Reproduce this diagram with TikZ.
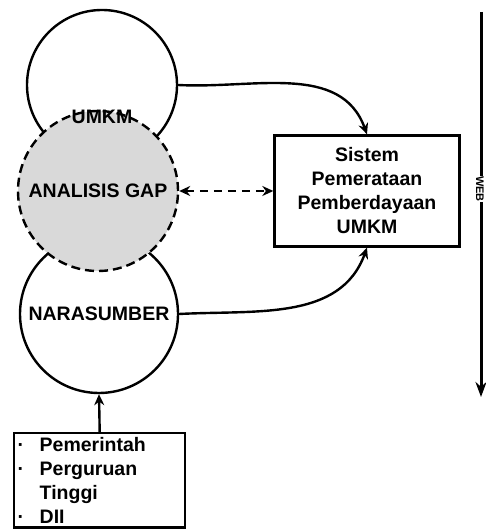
\documentclass[tikz,border=0pt]{standalone}
\usepackage{fontspec}
\setmainfont{Liberation Sans}
\usetikzlibrary{arrows.meta}

\begin{document}
\begin{tikzpicture}
[x=1pt,y=1pt,line width=2.4pt,>={Stealth[length=11pt,width=10pt]},%
  every node/.style={font=\bfseries\fontsize{19.5}{24}\selectfont,align=center},%
  bubble/.style={shape=circle,draw,minimum size=#1,inner sep=0pt},%
  gapdash/.style={dash pattern=on 9pt off 5pt}]
\useasboundingbox (0,0) rectangle (485,529);
% actors
\node[bubble=150] (umkm) at (102,444) {};
\node[bubble=158] (nara) at (99,215) {NARASUMBER};
\node[bubble=160,fill=black!15,gapdash] (gap) at (98,338) {ANALISIS GAP};
\node (umkmlbl) at (102,412) {UMKM};
% system
\node[draw,minimum width=185,minimum height=111] (sys) at (367,338)
  {Sistem\\Pemerataan\\Pemberdayaan\\UMKM};
% sources
\node[draw,anchor=north west,align=left,text width=164pt,inner xsep=3.5pt,inner ysep=4pt] (inst) at (13,97)
  {\makebox[22pt][l]{\textperiodcentered}Pemerintah\\
   \makebox[22pt][l]{\textperiodcentered}Perguruan\\
   \makebox[22pt][l]{}Tinggi\\
   \makebox[22pt][l]{\textperiodcentered}DII};
% web
\coordinate (webtop) at (481,517);
\coordinate (webbot) at (481,132);
\draw[->,line width=3pt,>={Stealth[length=15pt,width=11pt]}] (webtop) -- (webbot);
\node[fill=white,rotate=-90,inner sep=0.5pt,
  font=\bfseries\fontsize{11}{13}\selectfont] (web) at (480,340) {WEB};
% links
\draw[->] (umkm.east) to[out=-3,in=110] (sys.north);
\draw[->] (nara.east) to[out=3,in=-110] (sys.south);
\draw[<->,dash pattern=on 8pt off 6pt] (gap.east) -- (sys.west);
\draw[->] (inst.north) -- (nara.south);
\end{tikzpicture}
\end{document}
